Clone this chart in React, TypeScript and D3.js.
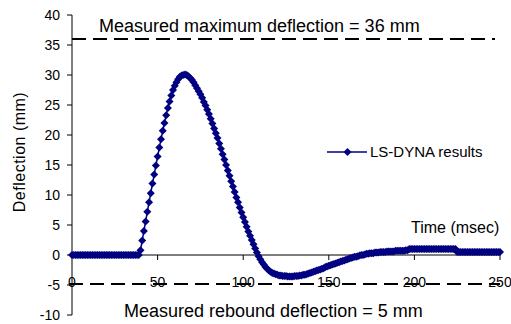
import React from 'react';
import * as d3 from 'd3';

// time step is 1 msec, 0..250
const timeMs = d3.range(0, 251);

// LS-DYNA deflection (mm), one value per msec
const deflection = [
  0, 0, 0, 0, 0, 0, 0, 0, 0, 0,
  0, 0, 0, 0, 0, 0, 0, 0, 0, 0,
  0, 0, 0, 0, 0, 0, 0, 0, 0, 0,
  0, 0, 0, 0, 0, 0, 0, 0, 0, 0,
  0.8, 2.4, 4.0, 5.6, 7.2, 8.8, 10.3, 11.9, 13.4, 14.9,
  16.4, 17.9, 19.3, 20.7, 22.0, 23.3, 24.5, 25.6, 26.6, 27.5,
  28.2, 28.8, 29.3, 29.7, 29.9, 30.0, 30.1, 30.0, 29.8, 29.5,
  29.2, 28.8, 28.3, 27.8, 27.3, 26.8, 26.2, 25.5, 24.9, 24.2,
  23.5, 22.7, 21.9, 21.1, 20.3, 19.5, 18.6, 17.7, 16.8, 15.9,
  15.0, 14.1, 13.2, 12.3, 11.4, 10.5, 9.6, 8.8, 7.9, 7.1,
  6.3, 5.5, 4.7, 3.9, 3.2, 2.5, 1.8, 1.1, 0.4, -0.2,
  -0.7, -1.2, -1.6, -2.0, -2.3, -2.6, -2.8, -3.0, -3.1, -3.2,
  -3.3, -3.4, -3.4, -3.5, -3.5, -3.5, -3.6, -3.6, -3.6, -3.6,
  -3.5, -3.5, -3.5, -3.4, -3.4, -3.3, -3.3, -3.2, -3.1, -3.0,
  -2.9, -2.8, -2.7, -2.6, -2.5, -2.4, -2.3, -2.2, -2.0, -1.9,
  -1.8, -1.7, -1.6, -1.5, -1.4, -1.3, -1.2, -1.1, -1.0, -0.9,
  -0.8, -0.7, -0.6, -0.5, -0.4, -0.3, -0.3, -0.2, -0.1, 0.0,
  0.0, 0.1, 0.2, 0.2, 0.3, 0.3, 0.3, 0.4, 0.4, 0.4,
  0.5, 0.5, 0.5, 0.5, 0.6, 0.6, 0.6, 0.6, 0.6, 0.7,
  0.7, 0.7, 0.7, 0.7, 0.7, 0.8, 0.8, 1.0, 1.0, 1.0,
  1.0, 1.0, 1.0, 1.0, 1.0, 1.0, 1.0, 1.0, 1.0, 1.0,
  1.0, 1.0, 1.0, 1.0, 1.0, 1.0, 1.0, 1.0, 1.0, 1.0,
  1.0, 1.0, 1.0, 1.0, 1.0, 0.5, 0.5, 0.5, 0.5, 0.5,
  0.5, 0.5, 0.5, 0.5, 0.5, 0.5, 0.5, 0.5, 0.5, 0.5,
  0.5, 0.5, 0.5, 0.5, 0.5, 0.5, 0.5, 0.5, 0.5, 0.5,
  0.5,
];

const xTicks = [0, 50, 100, 150, 200, 250];
const yTicks = [-10, -5, 0, 5, 10, 15, 20, 25, 30, 35, 40];

const maxMeasured = 36;
const reboundMeasured = -5;

const seriesName = 'LS-DYNA results';
const navy = '#000080';
const font = 'Arial, "Liberation Sans", sans-serif';

const diamond = (r: number) => `M0,${-r}L${r},0L0,${r}L${-r},0Z`;

export default function App() {
  const width = 511;
  const height = 324;

  const x = d3.scaleLinear().domain([0, 250]).range([72, 500]);
  const y = d3.scaleLinear().domain([-10, 40]).range([315, 15]);

  const points = timeMs.map((t, i) => ({ t, v: deflection[i] }));

  const line = d3.line<{ t: number; v: number }>()
    .x(d => x(d.t))
    .y(d => y(d.v));

  return (
    <svg width={width} height={height}
      style={{ position: 'absolute', left: 0, top: 0, background: '#fff', fontFamily: font }}>
      {/* y axis */}
      <line x1={x(0)} x2={x(0)} y1={y(40)} y2={y(-10)} stroke="#000" strokeWidth={1} />
      {yTicks.map(t => (
        <g key={t}>
          <line x1={x(0) - 5} x2={x(0)} y1={y(t)} y2={y(t)} stroke="#000" />
          <text x={60} y={y(t)} dy="0.36em" textAnchor="end" fontSize={14}>{t}</text>
        </g>
      ))}

      {/* x axis at zero */}
      <line x1={x(0)} x2={x(250)} y1={y(0)} y2={y(0)} stroke="#000" strokeWidth={1} />
      {xTicks.map(t => (
        <g key={t}>
          {t > 0 && <line x1={x(t)} x2={x(t)} y1={y(0)} y2={y(0) + 5} stroke="#000" />}
          <text x={x(t)} y={287} textAnchor="middle" fontSize={14}>{t}</text>
        </g>
      ))}

      {/* measured limits */}
      <line x1={x(0)} x2={495} y1={y(maxMeasured)} y2={y(maxMeasured)}
        stroke="#000" strokeWidth={2} strokeDasharray="14,7" />
      <line x1={69} x2={500} y1={y(reboundMeasured) - 1} y2={y(reboundMeasured) - 1}
        stroke="#000" strokeWidth={2} strokeDasharray="14,7" />
      <text x={99} y={31.5} fontSize={18}>Measured maximum deflection = 36 mm</text>
      <text x={124} y={316.5} fontSize={18}>Measured rebound deflection = 5 mm</text>

      {/* series */}
      <path d={line(points) ?? ''} fill="none" stroke={navy} strokeWidth={1.5} />
      {points.map(p => (
        <path key={p.t} d={diamond(4)} transform={`translate(${x(p.t)},${y(p.v)})`} fill={navy} />
      ))}

      {/* axis titles */}
      <text x={411} y={233} fontSize={16}>Time (msec)</text>
      <text transform={`translate(25,152) rotate(-90)`} textAnchor="middle" fontSize={16}
        letterSpacing={0.5}>Deflection (mm)</text>

      {/* legend */}
      <line x1={327} x2={367} y1={152} y2={152} stroke={navy} strokeWidth={1.5} />
      <path d={diamond(4)} transform="translate(347.5,152)" fill={navy} />
      <text x={370} y={157} fontSize={15}>{seriesName}</text>
    </svg>
  );
}
